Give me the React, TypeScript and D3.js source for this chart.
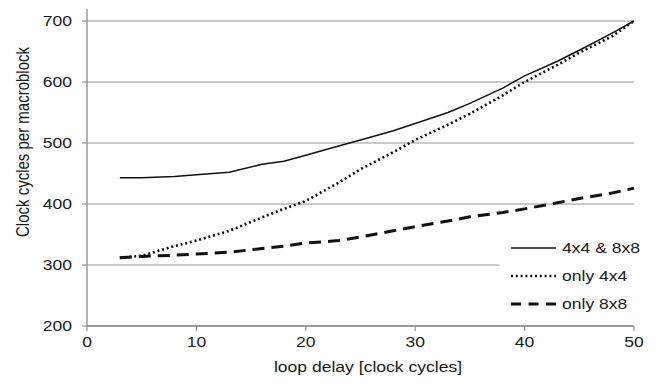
import * as d3 from "d3";
import { useEffect, useRef } from "react";

const DELAYS = [3, 5, 8, 10, 13, 16, 18, 20, 23, 25, 28, 30, 33, 35, 38, 40, 43, 45, 48, 50];
const BOTH = [443, 443, 445, 448, 452, 465, 470, 480, 495, 505, 520, 532, 550, 565, 590, 610, 634, 652, 680, 700];
const ONLY4 = [312, 315, 331, 340, 356, 378, 392, 405, 435, 457, 485, 505, 530, 548, 578, 600, 628, 648, 675, 700];
const ONLY8 = [312, 314, 316, 318, 321, 327, 331, 336, 340, 346, 356, 363, 372, 379, 386, 392, 402, 409, 418, 426];
const X_TICKS = [0, 10, 20, 30, 40, 50];
const Y_TICKS = [200, 300, 400, 500, 600, 700];
const SERIES = ["4x4 & 8x8", "only 4x4", "only 8x8"];

const FONT = "'Liberation Sans', Arial, sans-serif";
const SX = 1.17; // the picture is a bit wider than tall

export default function App() {
  const ref = useRef<SVGSVGElement | null>(null);
  useEffect(() => {
    if (!ref.current) return;
    const svg = d3.select(ref.current);
    svg.selectAll("*").remove();
    const width = 657, height = 387;
    const margin = { top: 21, right: 23, bottom: 61, left: 87 };

    const x = d3.scaleLinear().domain([0, 50]).range([margin.left, width - margin.right]);
    const y = d3.scaleLinear().domain([200, 700]).range([height - margin.bottom, margin.top]);

    // gridlines
    svg.append("g")
      .selectAll("line")
      .data(Y_TICKS.filter((d) => d > 200))
      .join("line")
      .attr("x1", x(0)).attr("x2", x(50))
      .attr("y1", (d) => y(d)).attr("y2", (d) => y(d))
      .attr("stroke", "#b8b8b8").attr("stroke-width", 1.3);

    // axes
    const ax = svg.append("g").attr("stroke", "#9a9a9a");
    ax.append("line").attr("x1", x(0)).attr("x2", x(0)).attr("y1", 9).attr("y2", y(200)).attr("stroke-width", 1.5);
    ax.append("line").attr("x1", x(0)).attr("x2", x(50)).attr("y1", y(200)).attr("y2", y(200)).attr("stroke-width", 2);
    ax.selectAll(".yt").data(Y_TICKS).join("line")
      .attr("x1", x(0) - 5).attr("x2", x(0)).attr("y1", (d) => y(d)).attr("y2", (d) => y(d)).attr("stroke-width", 1.3);
    ax.selectAll(".xt").data(X_TICKS).join("line")
      .attr("x1", (d) => x(d)).attr("x2", (d) => x(d)).attr("y1", y(200)).attr("y2", y(200) + 5).attr("stroke-width", 1.3);

    const txt = svg.append("g").attr("font-family", FONT).attr("font-size", 15).attr("fill", "#1a1a1a");
    txt.selectAll(".yl").data(Y_TICKS).join("text")
      .attr("transform", (d) => `translate(72,${y(d)}) scale(${SX},1)`)
      .attr("text-anchor", "end").attr("dy", "0.36em").text((d) => d);
    txt.selectAll(".xl").data(X_TICKS).join("text")
      .attr("transform", (d) => `translate(${x(d)},342) scale(${SX},1)`)
      .attr("text-anchor", "middle").attr("dy", "0.36em").text((d) => d);
    txt.append("text")
      .attr("transform", `translate(368,367) scale(${SX},1)`)
      .attr("text-anchor", "middle").attr("dy", "0.36em").text("loop delay [clock cycles]");
    txt.append("text")
      .attr("transform", `translate(23,142) rotate(-90) scale(1,${SX})`)
      .attr("text-anchor", "middle").attr("dy", "0.36em").text("Clock cycles per macroblock");

    const styles = [
      { w: 1.5, dash: null as string | null, cap: "butt" },
      { w: 2.6, dash: "2,2.8", cap: "butt" },
      { w: 3, dash: "12,7", cap: "butt" },
    ];
    const values = [BOTH, ONLY4, ONLY8];
    const line = d3.line<number>().x((_, i) => x(DELAYS[i])).y((d) => y(d));

    // draw dashed first, solid on top
    [2, 1, 0].forEach((k) => {
      svg.append("path")
        .datum(values[k])
        .attr("d", line)
        .attr("fill", "none")
        .attr("stroke", "#111")
        .attr("stroke-width", styles[k].w)
        .attr("stroke-dasharray", styles[k].dash)
        .attr("stroke-linecap", styles[k].cap)
        .attr("stroke-linejoin", "round");
    });

    // legend
    const lg = svg.append("g");
    lg.append("rect").attr("x", 499).attr("y", 233).attr("width", 158).attr("height", 85).attr("fill", "#fff");
    const rowY = d3.scalePoint().domain(SERIES).range([248, 304]);
    SERIES.forEach((s, k) => {
      const yy = rowY(s) ?? 0;
      lg.append("line")
        .attr("x1", 511).attr("x2", 556).attr("y1", yy).attr("y2", yy)
        .attr("stroke", "#111")
        .attr("stroke-width", styles[k].w)
        .attr("stroke-dasharray", k === 2 ? "10,7.5" : styles[k].dash);
      lg.append("text")
        .attr("transform", `translate(562,${yy}) scale(${SX},1)`)
        .attr("dy", "0.36em").attr("font-family", FONT).attr("font-size", 15).attr("fill", "#1a1a1a")
        .text(s);
    });
  }, []);
  return (
    <svg
      ref={ref}
      width={657}
      height={387}
      style={{ position: "absolute", left: 0, top: 0, background: "#fff", display: "block" }}
    />
  );
}
